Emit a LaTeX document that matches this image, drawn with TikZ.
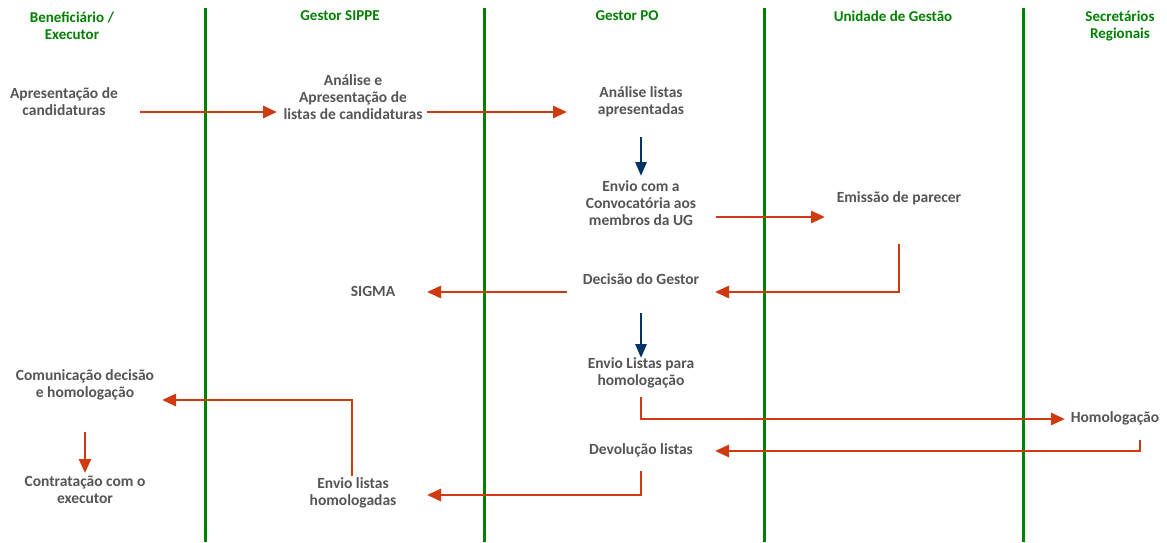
\documentclass[tikz,border=0pt]{standalone}
\usepackage{fontspec}
\setmainfont{Carlito}
\usetikzlibrary{arrows.meta}
\definecolor{lanegreen}{RGB}{0,128,0}
\definecolor{txtgray}{RGB}{85,85,85}
\definecolor{flowred}{RGB}{208,58,16}
\definecolor{flownavy}{RGB}{0,51,102}
\tikzset{
  lane/.style={draw=lanegreen, line width=3pt},
  head/.style={text=lanegreen, font=\bfseries\fontsize{15}{16.5}\selectfont, align=center, inner sep=0pt},
  lbl/.style={text=txtgray, font=\bfseries\fontsize{15.5}{17}\selectfont, align=center, inner sep=0pt},
  redflow/.style={draw=flowred, line width=2.8pt, -{Triangle[length=14pt,width=12pt]}},
  navyflow/.style={draw=flownavy, line width=2.8pt, -{Triangle[length=14pt,width=11pt]}},
}
\begin{document}
\begin{tikzpicture}[x=1pt,y=-1pt]
\useasboundingbox (0,0) rectangle (1167,542);
% lanes
\foreach \xx/\nm in {205/l1,484/l2,764/l3,1023/l4}{
  \coordinate (\nm t) at (\xx,8);
  \coordinate (\nm b) at (\xx,542);
  \draw[lane] (\nm t) -- (\nm b);
}
% headers
\node[head] (h1) at (72,26) {Beneficiário /\\Executor};
\node[head] (h2) at (340,16) {Gestor SIPPE};
\node[head] (h3) at (627,16) {Gestor PO};
\node[head] (h4) at (893,16) {Unidade de Gestão};
\node[head] (h5) at (1120,26) {Secretários\\Regionais};
% labels
\node[lbl] (apres) at (64,102) {Apresentação de\\candidaturas};
\node[lbl] (anal) at (353,97) {Análise e\\Apresentação de\\listas de candidaturas};
\node[lbl] (analpo) at (641,102) {Análise listas\\apresentadas};
\node[lbl] (envio) at (641,203) {Envio com a\\Convocatória aos\\membros da UG};
\node[lbl] (emis) at (899,198) {Emissão de parecer};
\node[lbl] (decis) at (641,279) {Decisão do Gestor};
\node[lbl] (sigma) at (373,291) {SIGMA};
\node[lbl] (envl) at (641,373) {Envio Listas para\\homologação};
\node[lbl] (comun) at (85,385) {Comunicação decisão\\e homologação};
\node[lbl] (homol) at (1115,418) {Homologação};
\node[lbl] (devol) at (641,450) {Devolução listas};
\node[lbl] (contr) at (85,490) {Contratação com o\\executor};
\node[lbl] (envh) at (353,493) {Envio listas\\homologadas};
% connector endpoints
\coordinate (a1s) at (140,112); \coordinate (a1e) at (277,112);
\coordinate (a2s) at (427,112); \coordinate (a2e) at (567,112);
\coordinate (a3s) at (641,137); \coordinate (a3e) at (641,176);
\coordinate (a4s) at (716,217); \coordinate (a4e) at (825,217);
\coordinate (a5s) at (899,244); \coordinate (a5e) at (715,292);
\coordinate (a6s) at (567,292); \coordinate (a6e) at (427,292);
\coordinate (a7s) at (641,313); \coordinate (a7e) at (641,358);
\coordinate (a8s) at (641,397); \coordinate (a8e) at (1065,419);
\coordinate (a9s) at (1140,440); \coordinate (a9e) at (715,451);
\coordinate (a10s) at (641,471); \coordinate (a10e) at (427,495);
\coordinate (a11s) at (352,476); \coordinate (a11e) at (162,400);
\coordinate (a12s) at (85,432); \coordinate (a12e) at (85,473);
% connectors
\draw[redflow] (a1s) -- (a1e);
\draw[redflow] (a2s) -- (a2e);
\draw[navyflow] (a3s) -- (a3e);
\draw[redflow] (a4s) -- (a4e);
\draw[redflow] (a5s) |- (a5e);
\draw[redflow] (a6s) -- (a6e);
\draw[navyflow] (a7s) -- (a7e);
\draw[redflow] (a8s) |- (a8e);
\draw[redflow] (a9s) |- (a9e);
\draw[redflow] (a10s) |- (a10e);
\draw[redflow] (a11s) |- (a11e);
\draw[redflow] (a12s) -- (a12e);
\end{tikzpicture}
\end{document}
